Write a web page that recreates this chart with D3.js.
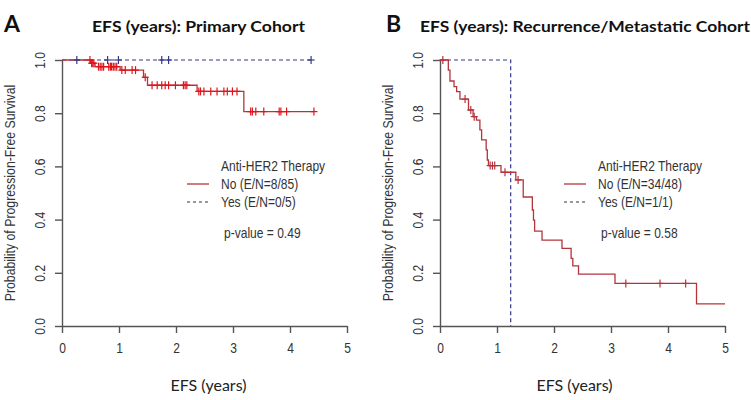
<!DOCTYPE html>
<html>
<head>
<meta charset="utf-8">
<script src="https://cdn.jsdelivr.net/npm/d3@7"></script>
<style>
  body { margin: 0; background: #fff; }
  svg text { font-family: "Liberation Sans", Arial, sans-serif; fill: #333; }
  .ttl { font-family: Lato, "Open Sans", sans-serif; font-weight: 700; fill: #111; }
  .xl { font-family: Lato, "Open Sans", sans-serif; fill: #222; }
</style>
</head>
<body>
<div id="chart"></div>
<script>
// Panel A: primary cohort
var aNoTime = [0, 0.50, 0.58, 1.02, 1.43, 1.50, 2.37, 3.19];
var aNoSurv = [1, 0.988, 0.975, 0.962, 0.935, 0.905, 0.882, 0.806];
var aNoEnd = 4.42;
var aNoCens = [0.49, 0.52, 0.54, 0.56, 0.64, 0.67, 0.70, 0.73, 0.82, 0.85, 0.87, 0.90, 0.93, 0.96,
  1.05, 1.11, 1.23, 1.29, 1.46, 1.58, 1.67, 1.75, 1.81, 1.87, 1.99, 2.13, 2.16, 2.19,
  2.40, 2.43, 2.49, 2.61, 2.72, 2.84, 2.90, 2.99, 3.07, 3.31, 3.34, 3.40, 3.54, 3.81, 3.84, 3.94, 4.42];
var aYesTime = [0];
var aYesSurv = [1];
var aYesEnd = 4.42;
var aYesCens = [0.26, 0.80, 0.99, 1.75, 1.87, 4.37];

// Panel B: recurrence / metastatic cohort
var bNoTime = [0, 0.146, 0.175, 0.246, 0.292, 0.35, 0.50, 0.58, 0.64, 0.70, 0.73, 0.81, 0.83, 0.85,
  1.07, 1.33, 1.46, 1.62, 1.64, 1.66, 1.79, 2.14, 2.30, 2.33, 2.43, 3.07, 4.50];
var bNoSurv = [1, 0.962, 0.921, 0.900, 0.881, 0.853, 0.812, 0.787, 0.774, 0.737, 0.700, 0.662, 0.624, 0.603,
  0.578, 0.549, 0.485, 0.436, 0.398, 0.357, 0.323, 0.292, 0.254, 0.226, 0.195, 0.160, 0.083];
var bNoEnd = 5.0;
var bNoCens = [0.05, 0.44, 0.54, 0.60, 0.88, 0.92, 0.96, 1.14, 1.37, 3.26, 3.86, 4.31];
var bYesTime = [0, 1.24];
var bYesSurv = [1, 0];
var bYesEnd = 1.24;
var bYesCens = [];

var xTicks = [0, 1, 2, 3, 4, 5];
var yTicks = [0, 0.2, 0.4, 0.6, 0.8, 1.0];

var panels = [
  {letter: "A", title: "EFS (years): Primary Cohort", left: 62, letterX: 4, titleX: 92, titleW: 213,
   legNo: "No (E/N=8/85)", legYes: "Yes (E/N=0/5)", pval: "p-value = 0.49", legX: 221,
   noTime: aNoTime, noSurv: aNoSurv, noEnd: aNoEnd, noCens: aNoCens, cens: "#e0141c",
   yesTime: aYesTime, yesSurv: aYesSurv, yesEnd: aYesEnd, yesCens: aYesCens},
  {letter: "B", title: "EFS (years): Recurrence/Metastatic Cohort", left: 440, letterX: 386, titleX: 420, titleW: 330,
   legNo: "No (E/N=34/48)", legYes: "Yes (E/N=1/1)", pval: "p-value = 0.58", legX: 598,
   noTime: bNoTime, noSurv: bNoSurv, noEnd: bNoEnd, noCens: bNoCens, cens: "#b5343c",
   yesTime: bYesTime, yesSurv: bYesSurv, yesEnd: bYesEnd, yesCens: bYesCens}
];

var plotW = 285, plotTop = 60, plotBottom = 326;
var redLine = "#b5343c", blueLine = "#34388a";
var squeeze = 0.86;  // R's text here is narrow

var svg = d3.select("#chart")
  .append("svg")
    .attr("width", 751)
    .attr("height", 400);

function survAt(times, surv, t) {
  var s = surv[0];
  for (var i = 0; i < times.length; i++) if (times[i] <= t) s = surv[i];
  return s;
}

function stepPoints(times, surv, end) {
  var pts = times.map((t, i) => [t, surv[i]]);
  pts.push([end, surv[surv.length - 1]]);
  return pts;
}

function drawCens(g, x, y, times, surv, list, color) {
  list.forEach(t => {
    var cx = x(t), cy = y(survAt(times, surv, t));
    g.append("line").attr("x1", cx).attr("x2", cx).attr("y1", cy - 4).attr("y2", cy + 4)
      .attr("stroke", color).attr("stroke-width", 1.2);
    g.append("line").attr("x1", cx - 3.5).attr("x2", cx + 3.5).attr("y1", cy).attr("y2", cy)
      .attr("stroke", color).attr("stroke-width", 1.2);
  });
}

function narrowText(g, x, y, str, size) {
  return g.append("text")
    .attr("transform", "translate(" + x + "," + y + ") scale(" + squeeze + ",1)")
    .attr("dy", "0.35em")
    .style("font-size", size + "px")
    .text(str);
}

panels.forEach(p => {
  var x = d3.scaleLinear().domain([0, 5]).range([p.left, p.left + plotW]);
  var y = d3.scaleLinear().domain([0, 1]).range([plotBottom, plotTop]);

  // letter + title
  svg.append("text").attr("class", "ttl").attr("x", p.letterX).attr("y", 32)
    .style("font-size", "23px").text(p.letter);
  svg.append("text").attr("class", "ttl").attr("x", p.titleX).attr("y", 32)
    .style("font-size", "16px").attr("textLength", p.titleW).attr("lengthAdjust", "spacingAndGlyphs")
    .text(p.title);

  // X axis
  var gx = svg.append("g")
    .attr("transform", "translate(0," + plotBottom + ")")
    .call(d3.axisBottom(x).tickValues(xTicks).tickFormat(d3.format("d")).tickSize(7).tickSizeOuter(0).tickPadding(10));
  gx.selectAll("path, line").attr("stroke", "#555").attr("stroke-width", 1.4);
  gx.selectAll("text").style("font-size", "14px").attr("fill", "#333")
    .attr("transform", function() { return "scale(" + squeeze + ",1)"; })
    .attr("x", 0);
  gx.selectAll(".tick text").attr("transform", "scale(" + squeeze + ",1)");

  // Y axis, labels rotated like R
  var gy = svg.append("g")
    .attr("transform", "translate(" + p.left + ",0)")
    .call(d3.axisLeft(y).tickValues(yTicks).tickFormat(d3.format(".1f")).tickSize(7).tickSizeOuter(0));
  gy.selectAll("path, line").attr("stroke", "#555").attr("stroke-width", 1.4);
  gy.selectAll("text")
    .style("font-size", "14px").attr("fill", "#333")
    .attr("transform", "rotate(-90) scale(" + squeeze + ",1)")
    .attr("x", 0).attr("y", -22).attr("dy", "0.35em")
    .attr("text-anchor", "middle");

  // axis titles
  svg.append("text")
    .attr("transform", "translate(" + (p.left - 52) + "," + ((plotTop + plotBottom) / 2) + ") rotate(-90) scale(0.82,1)")
    .attr("text-anchor", "middle").attr("dy", "0.35em")
    .style("font-size", "15px").attr("fill", "#555")
    .text("Probability of Progression-Free Survival");
  svg.append("text").attr("class", "xl")
    .attr("x", p.left + plotW / 2 + (p.letter == "A" ? 4 : -8)).attr("y", 391)
    .attr("text-anchor", "middle").style("font-size", "16px")
    .text("EFS (years)");

  // KM curves
  var line = d3.line().x(d => x(d[0])).y(d => y(d[1])).curve(d3.curveStepAfter);
  svg.append("path").datum(stepPoints(p.yesTime, p.yesSurv, p.yesEnd))
    .attr("fill", "none").attr("stroke", blueLine).attr("stroke-width", 1.2)
    .attr("stroke-dasharray", "4,3").attr("d", line);
  svg.append("path").datum(stepPoints(p.noTime, p.noSurv, p.noEnd))
    .attr("fill", "none").attr("stroke", redLine).attr("stroke-width", 1.3).attr("d", line);

  var gc = svg.append("g");
  drawCens(gc, x, y, p.noTime, p.noSurv, p.noCens, p.cens);
  drawCens(gc, x, y, p.yesTime, p.yesSurv, p.yesCens, blueLine);

  // legend
  var lg = svg.append("g");
  narrowText(lg, p.legX, 166, "Anti-HER2 Therapy", 14);
  lg.append("line").attr("x1", p.legX - 34).attr("x2", p.legX - 12).attr("y1", 184).attr("y2", 184)
    .attr("stroke", redLine).attr("stroke-width", 1.3);
  narrowText(lg, p.legX, 184, p.legNo, 14);
  lg.append("line").attr("x1", p.legX - 34).attr("x2", p.legX - 12).attr("y1", 202).attr("y2", 202)
    .attr("stroke", "#333").attr("stroke-width", 1.2).attr("stroke-dasharray", "3,3");
  narrowText(lg, p.legX, 202, p.legYes, 14);
  narrowText(lg, p.legX + 3, 233, p.pval, 14);
});
</script>
</body>
</html>
